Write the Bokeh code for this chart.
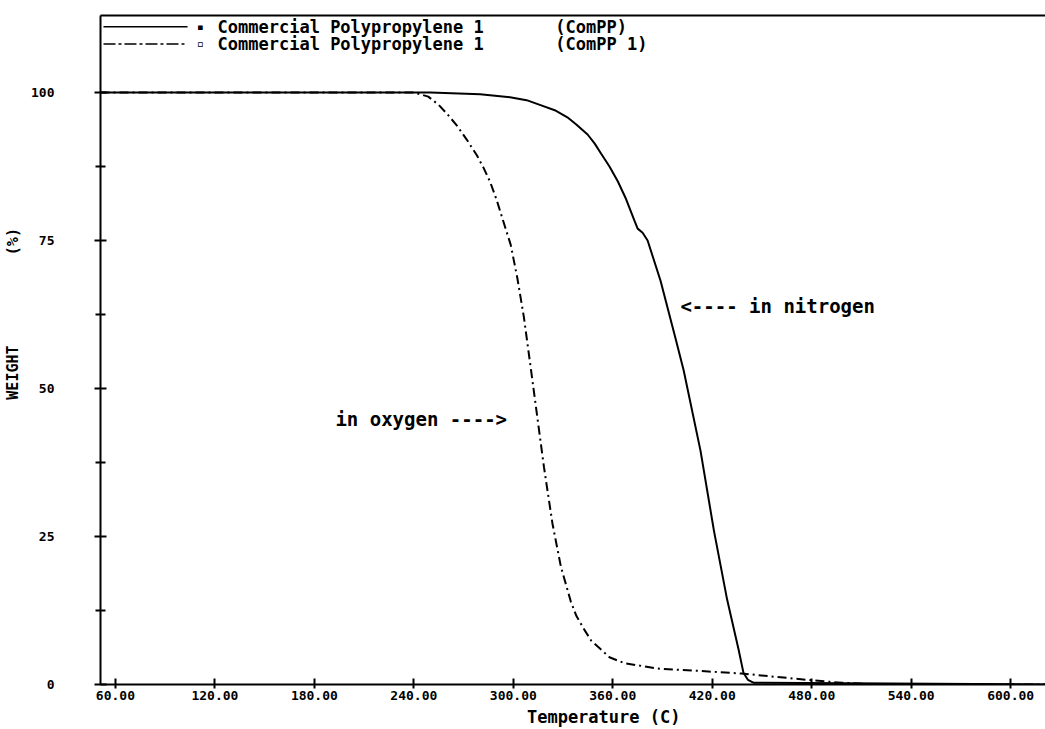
from bokeh.plotting import figure
from bokeh.models import (FixedTicker, PrintfTickFormatter, Label, Arrow,
                          LinearAxis, Range1d)
from bokeh.embed import file_html
from bokeh.resources import INLINE

# ---- data ----
n2_temp = [51, 150, 250, 280, 298, 308, 316, 325, 332.6, 338, 344.8, 349, 352.9,
           358, 363, 368, 373, 375, 378, 381, 388.8, 397.9, 402.8, 412.9, 421,
           429, 435.8, 438.8, 441.5, 444.8, 621]
n2_weight = [100, 100, 100, 99.7, 99.2, 98.7, 97.9, 97.0, 95.8, 94.6, 92.9, 91.4,
             89.7, 87.5, 85.0, 82.0, 78.4, 77.0, 76.3, 75.0, 68.2, 58.4, 53.0,
             39.5, 26.0, 14.3, 6.0, 2.0, 0.8, 0.3, 0]

o2_temp = [51, 240, 248.7, 255, 260, 266, 272, 278, 282, 286, 290, 294, 298.4,
           302.4, 306.4, 310.5, 314.5, 318.5, 323.6, 328.7, 334.7, 338, 342.3,
           347, 352.9, 358, 367, 387, 417.6, 437.8, 457.9, 482, 498, 520, 621]
o2_weight = [100, 100, 99.3, 97.9, 96.4, 94.4, 92.0, 89.4, 87.3, 84.9, 81.8, 78.2,
             74.3, 68.7, 62.0, 53.5, 45.1, 36.7, 27.2, 19.9, 14.0, 11.6, 9.5,
             7.4, 5.9, 4.6, 3.6, 2.7, 2.2, 1.85, 1.3, 0.67, 0.3, 0, 0]

x_ticks = [60, 120, 180, 240, 300, 360, 420, 480, 540, 600]
y_ticks = [0, 25, 50, 75, 100]
y_minor = [12.5, 37.5, 62.5, 87.5]

series_names = ["Commercial Polypropylene 1", "Commercial Polypropylene 1"]
series_codes = ["(ComPP)", "(ComPP 1)"]
x_title = "Temperature (C)"
y_title_main = "WEIGHT"
y_title_unit = "(%)"
note_n2 = "<---- in nitrogen"
note_o2 = "in oxygen ---->"

MONO = "DejaVu Sans Mono"
NB = "\u00a0"

p = figure(width=1045, height=729, x_range=Range1d(51, 621), y_range=Range1d(0, 113),
           output_backend="svg", toolbar_location=None,
           min_border_left=100, min_border_right=0, min_border_top=15,
           min_border_bottom=45)
p.outline_line_color = None
p.xgrid.visible = False
p.ygrid.visible = False
p.background_fill_color = "white"
p.border_fill_color = "white"

# axes
xa = p.xaxis[0]
xa.ticker = FixedTicker(ticks=x_ticks, minor_ticks=[])
xa.formatter = PrintfTickFormatter(format="%.2f")
xa.axis_line_width = 2
xa.major_tick_line_width = 2
xa.major_tick_in = 6
xa.major_tick_out = 4
xa.minor_tick_line_color = None
xa.major_label_standoff = 2
xa.major_label_text_font = MONO
xa.major_label_text_font_style = "bold"
xa.major_label_text_font_size = "13px"
xa.major_label_text_color = "black"
xa.axis_label = NB * 6 + x_title
xa.axis_label_standoff = 4
xa.axis_label_text_font = MONO
xa.axis_label_text_font_style = "bold"
xa.axis_label_text_font_size = "17px"
xa.axis_label_text_color = "black"

ya = p.yaxis[0]
ya.ticker = FixedTicker(ticks=y_ticks, minor_ticks=y_minor)
ya.formatter = PrintfTickFormatter(format="%d")
ya.axis_line_width = 2
ya.major_tick_line_width = 2
ya.minor_tick_line_width = 2
ya.minor_tick_line_color = "black"
ya.major_tick_in = 6
ya.major_tick_out = 6
ya.minor_tick_in = 5
ya.minor_tick_out = 5
ya.major_label_standoff = 40
ya.major_label_text_font = MONO
ya.major_label_text_font_style = "bold"
ya.major_label_text_font_size = "13px"
ya.major_label_text_color = "black"
ya.axis_label = NB * 8 + y_title_main + NB * 10 + y_title_unit
ya.axis_label_standoff = 6
ya.axis_label_text_font = MONO
ya.axis_label_text_font_style = "bold"
ya.axis_label_text_font_size = "15px"
ya.axis_label_text_color = "black"

top = LinearAxis(ticker=FixedTicker(ticks=[], minor_ticks=[]), axis_line_width=2,
                 major_tick_out=0, major_tick_in=0, minor_tick_out=0, minor_tick_in=0,
                 major_label_text_font_size="1px", major_label_standoff=0)
p.add_layout(top, "above")

# curves
p.line(n2_temp, n2_weight, line_color="black", line_width=2)
p.line(o2_temp, o2_weight, line_color="black", line_width=2, line_dash="9 4 2 4")

# legend (drawn manually to match the original layout)
leg_rows_w = [111.1, 108.2]
leg_dashes = ["solid", "12 3 3 3"]
for i in range(2):
    p.add_layout(Arrow(x_start=52.8, y_start=leg_rows_w[i], x_end=103.5, y_end=leg_rows_w[i],
                       end=None, line_color="black", line_width=1.5,
                       line_dash=leg_dashes[i]))
    p.add_layout(Label(x=111.3, y=leg_rows_w[i], text="\u25aa" if i == 0 else "\u25ab",
                       text_font=MONO, text_font_size="12px", text_align="center",
                       text_baseline="middle", text_color="black"))
    p.add_layout(Label(x=121.6, y=leg_rows_w[i],
                       text=series_names[i] + NB * 7 + series_codes[i],
                       text_font=MONO, text_font_style="bold", text_font_size="17px",
                       text_baseline="middle", text_color="black"))

# annotations
p.add_layout(Label(x=400.8, y=64.0, text=note_n2, text_font=MONO, text_font_style="bold",
                   text_font_size="19px", text_baseline="middle", text_color="black"))
p.add_layout(Label(x=192.7, y=44.9, text=note_o2, text_font=MONO, text_font_style="bold",
                   text_font_size="19px", text_baseline="middle", text_color="black"))

open("out.html", "w").write(file_html(p, INLINE))
